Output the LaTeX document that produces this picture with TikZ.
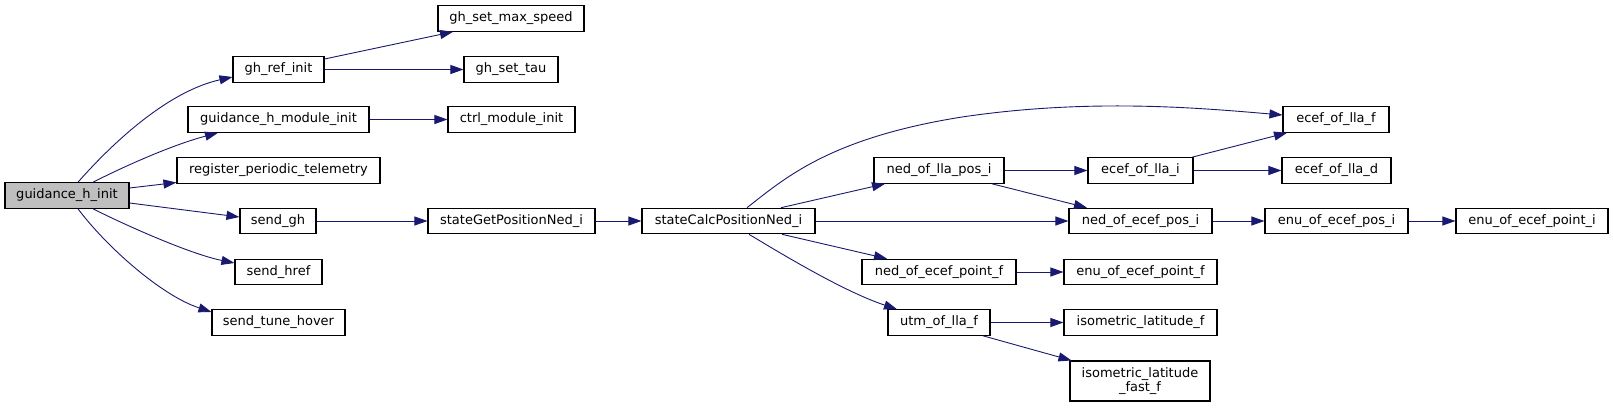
\documentclass[tikz,border=0pt]{standalone}
\usepackage{fontspec}
\setmainfont{DejaVu Sans}
\usetikzlibrary{arrows.meta,calc}
\definecolor{edgeblue}{HTML}{191970}
\begin{document}
\begin{tikzpicture}[x=1pt,y=-1pt,
  fn/.style={draw=black,line width=1.1pt,fill=white,inner sep=0pt,minimum height=25.5pt,font=\fontsize{13}{14}\selectfont,align=center},
  root/.style={fn,fill=black!25},
  call/.style={draw=edgeblue,line width=0.9pt,-{Triangle[length=13pt,width=9pt]}}]
\useasboundingbox (0,0) rectangle (1613,407);
% nodes
\node[root,minimum width=124pt] (init) at (67,195.5) {guidance\_h\_init};
\node[fn,minimum width=91pt] (ghref) at (278.5,69.5) {gh\_ref\_init};
\node[fn,minimum width=181pt] (ghmod) at (278.5,119.5) {guidance\_h\_module\_init};
\node[fn,minimum width=203pt] (reg) at (278.5,170.5) {register\_periodic\_telemetry};
\node[fn,minimum width=76pt] (sendgh) at (278,221) {send\_gh};
\node[fn,minimum width=87pt] (sendhref) at (278.5,272) {send\_href};
\node[fn,minimum width=133pt] (sendtune) at (278.5,322.5) {send\_tune\_hover};
\node[fn,minimum width=146pt] (maxspeed) at (511,18.5) {gh\_set\_max\_speed};
\node[fn,minimum width=94pt] (settau) at (511,69.5) {gh\_set\_tau};
\node[fn,minimum width=127pt] (ctrl) at (511.5,119.5) {ctrl\_module\_init};
\node[fn,minimum width=167pt] (getpos) at (511.5,221) {stateGetPositionNed\_i};
\node[fn,minimum width=173pt] (calcpos) at (728.5,221) {stateCalcPositionNed\_i};
\node[fn,minimum width=130pt] (nedlla) at (939,170.5) {ned\_of\_lla\_pos\_i};
\node[fn,minimum width=105pt] (eceflli) at (1140.5,170.5) {ecef\_of\_lla\_i};
\node[fn,minimum width=106pt] (ecefllf) at (1336,119.5) {ecef\_of\_lla\_f};
\node[fn,minimum width=109pt] (eceflld) at (1336.5,170.5) {ecef\_of\_lla\_d};
\node[fn,minimum width=143pt] (nedecefpos) at (1140.5,221) {ned\_of\_ecef\_pos\_i};
\node[fn,minimum width=154pt] (nedecefptf) at (939,272) {ned\_of\_ecef\_point\_f};
\node[fn,minimum width=153pt] (enuecefptf) at (1140.5,272) {enu\_of\_ecef\_point\_f};
\node[fn,minimum width=102pt] (utm) at (939,322.5) {utm\_of\_lla\_f};
\node[fn,minimum width=153pt] (isolat) at (1140.5,322.5) {isometric\_latitude\_f};
\node[fn,minimum width=140pt,minimum height=40pt] (isolatfast) at (1140,381) {isometric\_latitude\\\_fast\_f};
\node[fn,minimum width=143pt] (enuecefpos) at (1336.5,221) {enu\_of\_ecef\_pos\_i};
\node[fn,minimum width=152pt] (enuecefpti) at (1532,221) {enu\_of\_ecef\_point\_i};
% edges from guidance_h_init
\draw[call] ($(init.north)+(11,0)$) .. controls (108,148) and (165,92) .. ($(ghref.west)+(0,7.5)$);
\draw[call] ($(init.north)+(26,0)$) .. controls (125,166) and (172,145) .. ($(ghmod.south)+(-60.5,0)$);
\draw[call] ($(init.east)+(0,-7.5)$) -- ($(reg.west)+(0,12)$);
\draw[call] ($(init.east)+(0,7.5)$) -- ($(sendgh.west)+(0,-4)$);
\draw[call] ($(init.south)+(26,0)$) .. controls (125,225) and (190,254) .. ($(sendhref.west)+(0,-9)$);
\draw[call] ($(init.south)+(11,0)$) .. controls (105,245) and (160,295) .. ($(sendtune.west)+(0,-10.5)$);
% second level
\draw[call] ($(ghref.east)+(0,-10.5)$) -- ($(maxspeed.south)+(-58,0)$);
\draw[call] (ghref.east) -- (settau.west);
\draw[call] (ghmod.east) -- (ctrl.west);
\draw[call] (sendgh.east) -- (getpos.west);
\draw[call] (getpos.east) -- (calcpos.west);
% from stateCalcPositionNed_i
\draw[call] ($(calcpos.north)+(18.5,0)$) .. controls (785,178) and (830,138) .. (962,117) .. controls (1090,98) and (1200,108) .. ($(ecefllf.west)+(0,-4.5)$);
\draw[call] ($(calcpos.north)+(52.5,0)$) -- ($(nedlla.south)+(-54,0)$);
\draw[call] (calcpos.east) -- (nedecefpos.west);
\draw[call] ($(calcpos.south)+(53.5,0)$) -- ($(nedecefptf.north)+(-52,0)$);
\draw[call] ($(calcpos.south)+(20.5,0)$) .. controls (785,256) and (845,292) .. ($(utm.north)+(-42,0)$);
% further
\draw[call] (nedlla.east) -- (eceflli.west);
\draw[call] ($(nedlla.south)+(53,0)$) -- ($(nedecefpos.north)+(-53.5,0)$);
\draw[call] ($(eceflli.north)+(51.5,0)$) -- ($(ecefllf.south)+(-49,0)$);
\draw[call] (eceflli.east) -- (eceflld.west);
\draw[call] (nedecefpos.east) -- (enuecefpos.west);
\draw[call] (enuecefpos.east) -- (enuecefpti.west);
\draw[call] (nedecefptf.east) -- (enuecefptf.west);
\draw[call] (utm.east) -- (isolat.west);
\draw[call] ($(utm.south)+(44,0)$) -- ($(isolatfast.north west)+(2,0)$);
\end{tikzpicture}
\end{document}
